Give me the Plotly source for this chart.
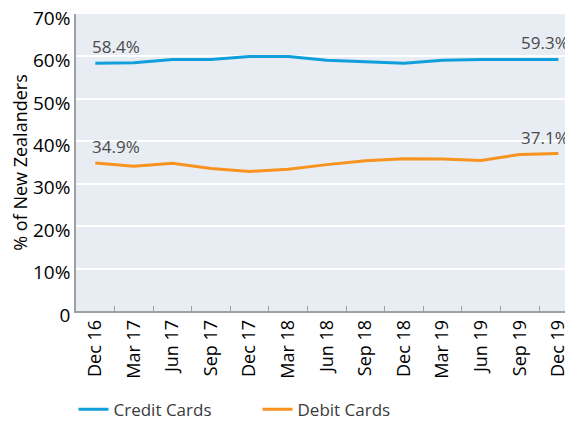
import plotly.graph_objects as go

quarters = ["Dec 16", "Mar 17", "Jun 17", "Sep 17", "Dec 17", "Mar 18", "Jun 18",
            "Sep 18", "Dec 18", "Mar 19", "Jun 19", "Sep 19", "Dec 19"]
credit = [58.4, 58.5, 59.3, 59.3, 60.0, 60.0, 59.1, 58.7, 58.4, 59.1, 59.3, 59.3, 59.3]
debit = [34.9, 34.1, 34.8, 33.6, 32.9, 33.4, 34.5, 35.4, 35.9, 35.8, 35.5, 36.9, 37.1]

y_ticks = [0, 10, 20, 30, 40, 50, 60, 70]
y_labels = ["0", "10%", "20%", "30%", "40%", "50%", "60%", "70%"]

font = "Open Sans, Noto Sans, sans-serif"
blue = "#119fdc"
orange = "#f7931e"

fig = go.Figure()
fig.add_trace(go.Scatter(x=quarters, y=credit, mode="lines", name="Credit Cards",
                         line=dict(color=blue, width=3)))
fig.add_trace(go.Scatter(x=quarters, y=debit, mode="lines", name="Debit Cards",
                         line=dict(color=orange, width=3)))

# first / last value labels
for series in (credit, debit):
    fig.add_annotation(x=quarters[0], y=series[0], text=f"{series[0]:.1f}%",
                       showarrow=False, xanchor="left", yanchor="bottom", xshift=-5, yshift=3,
                       font=dict(family=font, size=17, color="#4a4a4a"))
    fig.add_annotation(x=quarters[-1], y=series[-1], text=f"{series[-1]:.1f}%",
                       showarrow=False, xanchor="center", yanchor="bottom", xshift=-13, yshift=3,
                       font=dict(family=font, size=17, color="#4a4a4a"))

# the page adds an 8px body margin, so the figure is sized to fit inside it
fig.update_layout(
    width=565, height=420,
    margin=dict(l=68, r=0, t=6, b=113),
    plot_bgcolor="#e8ecf3",
    paper_bgcolor="white",
    font=dict(family=font, size=18, color="black"),
    showlegend=True,
    legend=dict(orientation="h", x=-0.005, xanchor="left", y=-0.332, yanchor="middle",
                font=dict(size=17, color="#3a3a3a"), entrywidth=139, entrywidthmode="pixels",
                tracegroupgap=0),
)
fig.update_xaxes(type="category", tickangle=-90, showgrid=False, automargin=False,
                 showline=True, linecolor="#a0a0a0", linewidth=1.5,
                 ticks="inside", tickson="boundaries", ticklen=5, tickcolor="#a0a0a0",
                 tickfont=dict(size=18, color="black"), range=[-0.5, 12.38],
                 ticklabeloverflow="allow")
fig.update_yaxes(range=[0, 70], tickvals=y_ticks, ticktext=y_labels, automargin=False,
                 showgrid=True, gridcolor="white", gridwidth=1.5, zeroline=False,
                 showline=True, linecolor="#a0a0a0", linewidth=1.5,
                 tickfont=dict(size=19, color="black"), ticklen=0, ticks="",
                 ticklabeloverflow="allow", ticklabelshift=4,
                 title=dict(text="% of New Zealanders", font=dict(size=18), standoff=6))

fig.write_html("out.html")
